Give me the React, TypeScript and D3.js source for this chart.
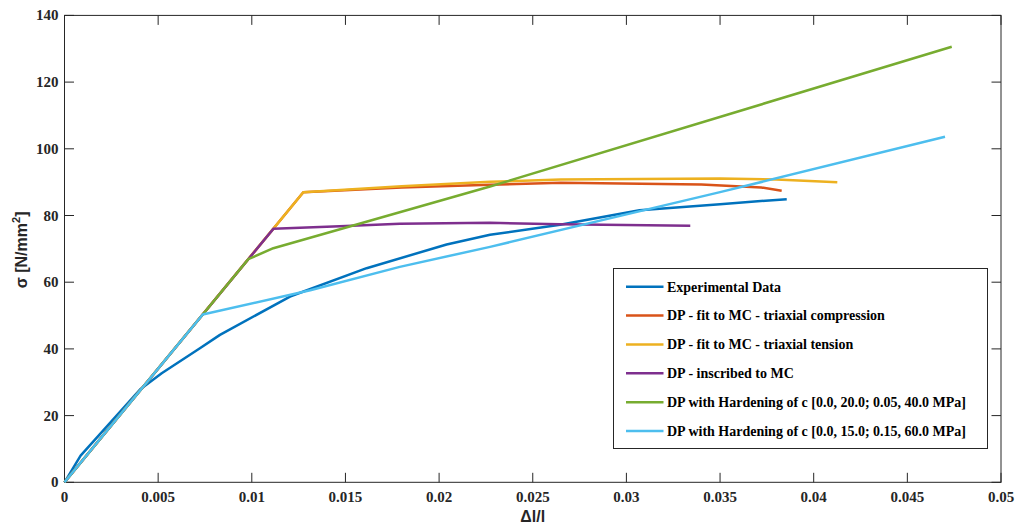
import React, { useRef, useEffect } from "react";
import * as d3 from "d3";

// strain values (Δl/l) and stress values (σ) for each curve
const expX = [0, 0.00086, 0.00403, 0.00519, 0.00723, 0.0083, 0.01204, 0.01613, 0.0204, 0.02272, 0.02646, 0.0307, 0.035, 0.03856];
const expY = [0, 8.0, 27.8, 32.7, 40.2, 44.2, 55.7, 64.2, 71.3, 74.2, 77.2, 81.6, 83.4, 84.9];

const compX = [0, 0.01275, 0.018, 0.02272, 0.0265, 0.034, 0.0372, 0.03829];
const compY = [0, 86.95, 88.4, 89.2, 89.8, 89.3, 88.4, 87.4];

const tensX = [0, 0.01275, 0.018, 0.02272, 0.0265, 0.035, 0.038, 0.04126];
const tensY = [0, 86.95, 88.8, 90.1, 90.8, 91.1, 90.8, 90.0];

const inscX = [0, 0.01115, 0.0147, 0.0179, 0.02272, 0.02646, 0.03341];
const inscY = [0, 76.0, 76.8, 77.5, 77.8, 77.4, 76.9];

const hard1X = [0, 0.00981, 0.01115, 0.02272, 0.04737];
const hard1Y = [0, 66.9, 70.2, 88.7, 130.6];

const hard2X = [0, 0.00738, 0.01312, 0.0179, 0.02272, 0.035, 0.04701];
const hard2Y = [0, 50.3, 57.6, 64.6, 70.6, 87.0, 103.6];

const seriesNames = [
  "Experimental Data",
  "DP - fit to MC - triaxial compression",
  "DP - fit to MC - triaxial tension",
  "DP - inscribed to MC",
  "DP with Hardening of c [0.0, 20.0; 0.05, 40.0 MPa]",
  "DP with Hardening of c [0.0, 15.0; 0.15, 60.0 MPa]",
];
const seriesColors = ["#0072BD", "#D95319", "#EDB120", "#7E2F8E", "#77AC30", "#4DBEEE"];

const xTicks = [0, 0.005, 0.01, 0.015, 0.02, 0.025, 0.03, 0.035, 0.04, 0.045, 0.05];
const yTicks = [0, 20, 40, 60, 80, 100, 120, 140];

const App = () => {
  const chartRef = useRef(null);

  useEffect(() => {
    if (!chartRef.current) return;
    const svg = d3.select(chartRef.current);
    svg.selectAll("*").remove();

    const left = 64.5, right = 1001, top = 15.4, bottom = 482.3;
    const axisColor = "#262626";
    const serif = "'Liberation Serif', 'Times New Roman', serif";
    const sans = "'Liberation Sans', Arial, sans-serif";

    const x = d3.scaleLinear().domain([0, 0.05]).range([left, right]);
    const y = d3.scaleLinear().domain([0, 140]).range([bottom, top]);

    const xs = [expX, compX, tensX, inscX, hard1X, hard2X];
    const ys = [expY, compY, tensY, inscY, hard1Y, hard2Y];

    // box
    svg.append("rect")
      .attr("x", left).attr("y", top)
      .attr("width", right - left).attr("height", bottom - top)
      .attr("fill", "#fff").attr("stroke", axisColor).attr("stroke-width", 1);

    // ticks (inward, mirrored on top/right)
    const tickLen = 9.5;
    const tg = svg.append("g").attr("stroke", axisColor).attr("stroke-width", 1);
    xTicks.forEach(t => {
      tg.append("line").attr("x1", x(t)).attr("x2", x(t)).attr("y1", bottom).attr("y2", bottom - tickLen);
      tg.append("line").attr("x1", x(t)).attr("x2", x(t)).attr("y1", top).attr("y2", top + tickLen);
    });
    yTicks.forEach(t => {
      tg.append("line").attr("x1", left).attr("x2", left + tickLen).attr("y1", y(t)).attr("y2", y(t));
      tg.append("line").attr("x1", right).attr("x2", right - tickLen).attr("y1", y(t)).attr("y2", y(t));
    });

    svg.append("g").selectAll("text")
      .data(xTicks).enter().append("text")
      .attr("x", d => x(d)).attr("y", bottom + 19.4)
      .attr("text-anchor", "middle")
      .attr("font-family", serif).attr("font-weight", "bold").attr("font-size", 15)
      .attr("fill", axisColor)
      .text(d => d3.format("")(d));

    svg.append("g").selectAll("text")
      .data(yTicks).enter().append("text")
      .attr("x", left - 6).attr("y", d => y(d) + 5)
      .attr("text-anchor", "end")
      .attr("font-family", serif).attr("font-weight", "bold").attr("font-size", 15)
      .attr("fill", axisColor)
      .text(d => d);

    // axis labels
    svg.append("text")
      .attr("x", (left + right) / 2).attr("y", 522)
      .attr("text-anchor", "middle")
      .attr("font-family", sans).attr("font-weight", "bold").attr("font-size", 16)
      .attr("fill", axisColor)
      .text("Δl/l");

    const yl = svg.append("text")
      .attr("transform", `translate(26.5,${(top + bottom) / 2 + 1}) rotate(-90)`)
      .attr("text-anchor", "middle")
      .attr("font-family", sans).attr("font-weight", "bold").attr("font-size", 16)
      .attr("fill", axisColor);
    yl.append("tspan").text("σ [N/mm");
    yl.append("tspan").attr("font-size", 11).attr("dy", -7).text("2");
    yl.append("tspan").attr("dy", 7).text("]");

    // curves
    const line = d3.line().x(d => x(d[0])).y(d => y(d[1]));
    xs.forEach((arr, i) => {
      const pts = arr.map((v, j) => [v, ys[i][j]]);
      svg.append("path")
        .datum(pts)
        .attr("d", line)
        .attr("fill", "none")
        .attr("stroke", seriesColors[i])
        .attr("stroke-width", 2.5)
        .attr("stroke-linejoin", "round");
    });

    // legend
    const lx = 613.5, ly = 268.5, lw = 374, lh = 180;
    const lg = svg.append("g");
    lg.append("rect")
      .attr("x", lx).attr("y", ly).attr("width", lw).attr("height", lh)
      .attr("fill", "#fff").attr("stroke", axisColor).attr("stroke-width", 1);
    seriesNames.forEach((name, i) => {
      const ry = 286.7 + i * 28.86;
      lg.append("line")
        .attr("x1", 626).attr("x2", 663.5).attr("y1", ry).attr("y2", ry)
        .attr("stroke", seriesColors[i]).attr("stroke-width", 2.5);
      lg.append("text")
        .attr("x", 667).attr("y", ry + 4.8)
        .attr("font-family", serif).attr("font-weight", "bold").attr("font-size", 14)
        .attr("fill", "#000")
        .text(name);
    });
  }, []);

  return (
    <svg
      ref={chartRef}
      width={1019}
      height={528}
      style={{ position: "absolute", left: 0, top: 0, background: "#fff" }}
    ></svg>
  );
};

export default App;
